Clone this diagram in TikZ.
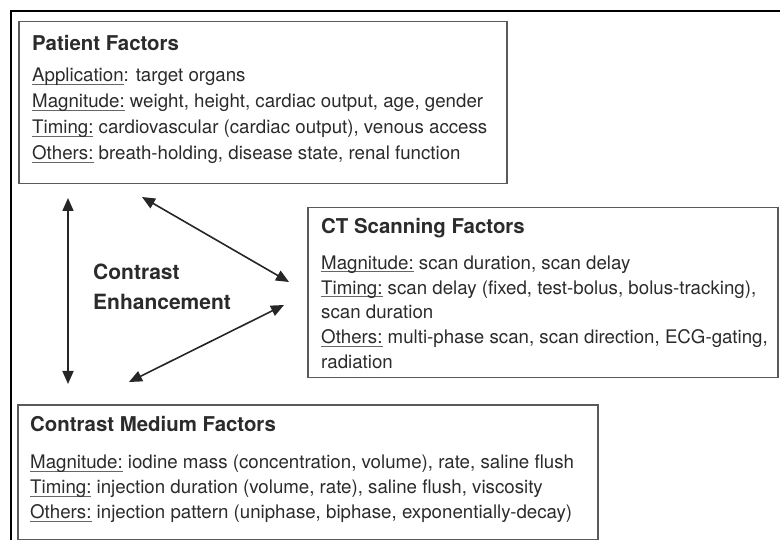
\documentclass[tikz,border=0pt]{standalone}
\usepackage{fontspec}
\setmainfont{TeX Gyre Heros}
\usetikzlibrary{arrows.meta}

\definecolor{inkgray}{HTML}{2B2B2B}
\definecolor{boxgray}{HTML}{5A5A5A}
\definecolor{ulgray}{HTML}{666666}

% underlined label in front of each factor line
\newsavebox\ulbox
\newcommand\ulabel[1]{\sbox\ulbox{#1}\rlap{\color{ulgray}\rule[-3pt]{\wd\ulbox}{0.9pt}}\usebox\ulbox}
\newcommand\boxhead[1]{{\bfseries\fontsize{20.4}{24}\selectfont #1}}

\begin{document}
\begin{tikzpicture}[x=1pt,y=-1pt,
    factorbox/.style={draw=boxgray,line width=1.5pt,anchor=north west,inner sep=0pt},
    factortext/.style={anchor=north west,inner sep=0pt,align=left,text=inkgray,
      font=\fontsize{18.7}{#1}\selectfont},
    twoway/.style={{Triangle[length=13pt,width=11pt]}-{Triangle[length=13pt,width=11pt]},
      line width=1.6pt,draw=black!85}]
    \useasboundingbox (0,0) rectangle (780,540);

    % Frame
    \draw[line width=2pt] (11,540) -- (11,11) -- (780,11);

    % Boxes
    \node[factorbox,minimum width=488pt,minimum height=162pt] (patient) at (18,21) {};
    \node[factorbox,minimum width=470pt,minimum height=170pt] (scan) at (307,207) {};
    \node[factorbox,minimum width=580pt,minimum height=135pt] (medium) at (17,404) {};

    % Box texts
    \node[factortext=26] (patienttxt) at ([shift={(14,14.4)}]patient.north west) {%
      \boxhead{Patient Factors}\\[5pt]
      \ulabel{Application}: target organs\\
      \ulabel{Magnitude:} weight, height, cardiac output, age, gender\\
      \ulabel{Timing:} cardiovascular (cardiac output), venous access\\
      \ulabel{Others:} breath-holding, disease state, renal function};
    \node[factortext=24.75] (scantxt) at ([shift={(14,11.2)}]scan.north west) {%
      \boxhead{CT Scanning Factors}\\[11pt]
      \ulabel{Magnitude:} scan duration, scan delay\\
      \ulabel{Timing:} scan delay (fixed, test-bolus, bolus-tracking),\\
      scan duration\\
      \ulabel{Others:} multi-phase scan, scan direction, ECG-gating,\\
      radiation};
    \node[factortext=25] (mediumtxt) at ([shift={(13,12.4)}]medium.north west) {%
      \boxhead{Contrast Medium Factors}\\[12pt]
      \ulabel{Magnitude:} iodine mass (concentration, volume), rate, saline flush\\
      \ulabel{Timing:} injection duration (volume, rate), saline flush, viscosity\\
      \ulabel{Others:} injection pattern (uniphase, biphase, exponentially-decay)};

    % Centre label
    \node[anchor=north west,inner sep=0pt,align=left,text=inkgray,
      font=\bfseries\fontsize{21}{30}\selectfont] (enhance) at (93,263.3)
      {Contrast\\Enhancement};

    % Arrows
    \coordinate (pm1) at (68,198);
    \coordinate (pm2) at (68,384);
    \coordinate (ps1) at (142,197);
    \coordinate (ps2) at (289,282);
    \coordinate (sm1) at (284,305);
    \coordinate (sm2) at (129,382);
    \draw[twoway] (pm1) -- (pm2);
    \draw[twoway] (ps1) -- (ps2);
    \draw[twoway] (sm1) -- (sm2);

\end{tikzpicture}
\end{document}
